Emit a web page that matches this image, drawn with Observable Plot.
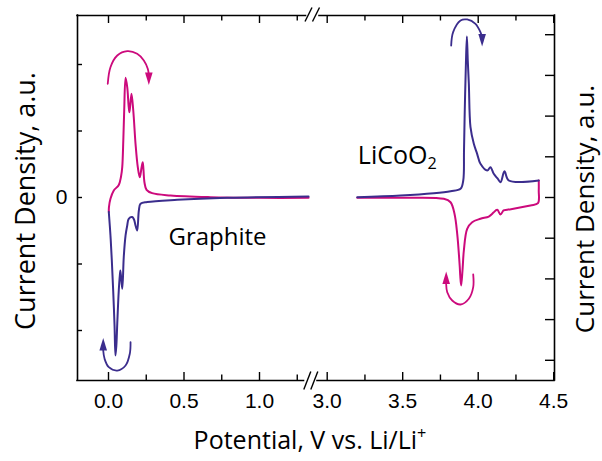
<!DOCTYPE html>
<html><head><meta charset="utf-8">
<script src="https://cdn.jsdelivr.net/npm/d3@7"></script>
<script src="https://cdn.jsdelivr.net/npm/@observablehq/plot@0.6"></script>
<style>html,body{margin:0;padding:0;background:#fff;} svg{display:block;}</style>
</head><body><div id="chart"></div>
<script>
// ---------- data (potential in V, current density in arbitrary units) ----------
const graphiteOxV = [0.002,0.003,0.013,0.035,0.068,0.083,0.091,0.098,0.104,0.113,0.124,0.134,0.139,0.152,0.164,0.179,0.194,0.207,0.219,0.227,0.238,0.252,0.289,0.411,0.675,1.007,1.325];
const graphiteOxI = [-0.218,-0.146,-0.02,0.105,0.188,0.316,0.456,0.857,1.308,1.80,1.659,1.358,1.283,1.559,1.308,0.807,0.456,0.305,0.451,0.531,0.23,0.116,0.065,0.03,0.005,-0.005,-0.005];

const graphiteRedV = [0.002,0.013,0.022,0.031,0.040,0.046,0.052,0.058,0.068,0.075,0.079,0.091,0.101,0.113,0.124,0.134,0.157,0.169,0.179,0.19,0.201,0.212,0.256,0.455,0.786,1.325];
const graphiteRedI = [-0.218,-0.571,-0.947,-1.398,-1.925,-2.376,-2.226,-1.895,-1.398,-1.173,-1.098,-1.373,-0.898,-0.571,-0.421,-0.32,-0.293,-0.331,-0.421,-0.496,-0.195,-0.095,-0.068,-0.035,-0.005,0.015];

const licoOxV = [3.199,3.485,3.706,3.817,3.883,3.901,3.906,3.911,3.918,3.925,3.931,3.938,3.949,3.971,3.993,4.015,4.06,4.081,4.103,4.128,4.148,4.174,4.203,4.401];
const licoOxI = [0.005,0.03,0.065,0.095,0.131,0.256,0.707,1.308,1.959,2.421,2.06,1.71,1.057,0.807,0.657,0.507,0.406,0.456,0.356,0.286,0.23,0.395,0.256,0.256];

const licoRedV = [4.401,4.401,4.396,4.346,4.192,4.168,4.148,4.126,4.101,4.093,4.07,4.015,3.96,3.927,3.905,3.896,3.887,3.881,3.878,3.861,3.843,3.817,3.772,3.485,3.199];
const licoRedI = [0.256,0.105,-0.086,-0.12,-0.185,-0.195,-0.256,-0.185,-0.226,-0.245,-0.286,-0.32,-0.371,-0.471,-0.797,-1.098,-1.323,-1.173,-1.048,-0.546,-0.245,-0.071,-0.02,-0.005,-0.005];

// scan-direction arrows
const arrowGraphiteOxV = [-0.005,0.013,0.058,0.124,0.19,0.234,0.26,0.267];
const arrowGraphiteOxI = [1.71,1.959,2.135,2.2,2.161,2.06,1.935,1.85];
const arrowGraphiteRedV = [0.146,0.141,0.113,0.058,0.002,-0.026,-0.035];
const arrowGraphiteRedI = [-2.176,-2.35,-2.526,-2.602,-2.552,-2.426,-2.301];
const arrowLicoOxV = [3.821,3.834,3.883,3.927,3.982,4.015,4.024];
const arrowLicoOxI = [2.286,2.486,2.662,2.677,2.612,2.486,2.421];
const arrowLicoRedV = [3.967,3.967,3.938,3.883,3.828,3.795,3.788];
const arrowLicoRedI = [-1.158,-1.349,-1.523,-1.609,-1.549,-1.424,-1.308];
const arrowHeadV = [0.267,-0.035,4.026,3.788];
const arrowHeadI = [1.789,-2.21,2.368,-1.21];
const arrowHeadDir = ["down","up","down","up"];
const arrowHeadSeries = ["ox","red","ox","red"];

// ticks and labels
const xTicks = [0,0.25,0.5,0.75,1,1.25,3,3.25,3.5,3.75,4,4.25,4.5];
const xLabelValues = [0,0.5,1,3,3.5,4,4.5];
const xLabels = ["0.0","0.5","1.0","3.0","3.5","4.0","4.5"];
const leftTicks = [-2,-1,0,1,2];
const rightTicks = [-4,-3,-2,-1,0,1,2,3,4];
const rightTickScale = 0.612;   // LiCoO2 axis units -> graphite axis units
const labels = {graphite: "Graphite", lico: "LiCoO2", yTitle: "Current Density, a.u.", xTitle: "Potential, V vs. Li/Li+"};

// ---------- layout ----------
const MAG = "#cc0a7c", BLUE = "#3b2d8d";
const PXV = 151, PXU = 66.5;             // px per volt, px per current unit
const BREAK_OFFSET = 1.5517;             // removed span of the broken axis
const toP = v => v >= 2 ? v - BREAK_OFFSET : v;
const px2p = x => (x - 108) / PXV;       // helpers for decorations (break marks)
const py2y = y => (197 - y) / PXU;
const xMin = -0.2053, xMax = 2.9536;
const yMin = -(380 - 197) / PXU, yMax = (197 - 15) / PXU;

const rows = (vs, is) => vs.map((v, i) => ({p: toP(v), y: is[i]}));
const tickRows = xTicks.map(v => ({p: toP(v), major: xLabelValues.includes(v)}));
const labelRows = xLabelValues.map((v, i) => ({p: toP(v), label: xLabels[i]}));
const heads = arrowHeadV.map((v, i) => ({p: toP(v), y: arrowHeadI[i], rot: arrowHeadDir[i] === "down" ? 180 : 0, s: arrowHeadSeries[i]}));

const headSymbol = {draw(ctx) { ctx.moveTo(0, -6.5); ctx.lineTo(3.8, 6); ctx.lineTo(-3.8, 6); ctx.closePath(); }};

const frameSegs = [
  {y: yMax, x1: xMin, x2: px2p(305.5)}, {y: yMax, x1: px2p(319), x2: xMax},
  {y: yMin, x1: xMin, x2: px2p(303.5)}, {y: yMin, x1: px2p(317), x2: xMax}
];
const slashes = [[308, 14, 7], [315.5, 14, 7], [306.8, 380, 9], [313.8, 380, 9]].map(([cx, cy, h]) => ({
  x1: px2p(cx - 3.5), y1: py2y(cy + h), x2: px2p(cx + 3.5), y2: py2y(cy - h)
}));

const titleFont = "'Open Sans', 'Noto Sans', sans-serif";
const tickFont = "'Liberation Sans', Arial, sans-serif";
const dataCurve = "catmull-rom";

const chart = Plot.plot({
  width: 602, height: 461,
  marginLeft: 77, marginRight: 48, marginTop: 15, marginBottom: 81,
  x: {domain: [xMin, xMax], axis: null},
  y: {domain: [yMin, yMax], axis: null},
  style: {background: "#fff", fontFamily: tickFont, fontSize: "21px", color: "#000"},
  marks: [
    // data curves
    Plot.line(rows(graphiteOxV, graphiteOxI), {x: "p", y: "y", stroke: MAG, strokeWidth: 2, curve: dataCurve}),
    Plot.line(rows(licoRedV, licoRedI), {x: "p", y: "y", stroke: MAG, strokeWidth: 2, curve: dataCurve}),
    Plot.line(rows(graphiteRedV, graphiteRedI), {x: "p", y: "y", stroke: BLUE, strokeWidth: 2, curve: dataCurve}),
    Plot.line(rows(licoOxV, licoOxI), {x: "p", y: "y", stroke: BLUE, strokeWidth: 2, curve: dataCurve}),
    // arrows
    Plot.line(rows(arrowGraphiteOxV, arrowGraphiteOxI), {x: "p", y: "y", stroke: MAG, strokeWidth: 1.8, curve: "catmull-rom"}),
    Plot.line(rows(arrowLicoRedV, arrowLicoRedI), {x: "p", y: "y", stroke: MAG, strokeWidth: 1.8, curve: "catmull-rom"}),
    Plot.line(rows(arrowGraphiteRedV, arrowGraphiteRedI), {x: "p", y: "y", stroke: BLUE, strokeWidth: 1.8, curve: "catmull-rom"}),
    Plot.line(rows(arrowLicoOxV, arrowLicoOxI), {x: "p", y: "y", stroke: BLUE, strokeWidth: 1.8, curve: "catmull-rom"}),
    Plot.dot(heads.filter(d => d.s === "ox" && d.p < 1), {x: "p", y: "y", rotate: "rot", symbol: headSymbol, fill: MAG, stroke: null}),
    Plot.dot(heads.filter(d => d.s === "red" && d.p > 1), {x: "p", y: "y", rotate: "rot", symbol: headSymbol, fill: MAG, stroke: null}),
    Plot.dot(heads.filter(d => d.s === "red" && d.p < 1), {x: "p", y: "y", rotate: "rot", symbol: headSymbol, fill: BLUE, stroke: null}),
    Plot.dot(heads.filter(d => d.s === "ox" && d.p > 1), {x: "p", y: "y", rotate: "rot", symbol: headSymbol, fill: BLUE, stroke: null}),
    // frame with axis break
    Plot.ruleX([xMin, xMax], {y1: yMin, y2: yMax, stroke: "#000", strokeWidth: 1.6, strokeLinecap: "square"}),
    Plot.ruleY(frameSegs, {y: "y", x1: "x1", x2: "x2", stroke: "#000", strokeWidth: 1.6, strokeLinecap: "square"}),
    Plot.link(slashes, {x1: "x1", y1: "y1", x2: "x2", y2: "y2", stroke: "#000", strokeWidth: 1.4}),
    // inward ticks
    Plot.ruleX(tickRows, {x: "p", y1: yMin, y2: d => yMin + (d.major ? 8 : 5.5) / PXU, stroke: "#000", strokeWidth: 1.4}),
    Plot.ruleX(tickRows, {x: "p", y1: yMax, y2: d => yMax - (d.major ? 8 : 5.5) / PXU, stroke: "#000", strokeWidth: 1.4}),
    Plot.ruleY(leftTicks, {y: d => d, x1: xMin, x2: xMin + 5 / PXV, stroke: "#000", strokeWidth: 1.4}),
    Plot.ruleY(rightTicks, {y: d => d * rightTickScale, x1: xMax - 9 / PXV, x2: xMax, stroke: "#000", strokeWidth: 1.4}),
    // tick labels
    Plot.text(labelRows, {x: "p", text: "label", frameAnchor: "bottom", dy: 13, lineAnchor: "top", fontSize: 21, fontFamily: tickFont}),
    Plot.text(["0"], {x: xMin, y: 0, dx: -10, textAnchor: "end", lineAnchor: "middle", fontSize: 21, fontFamily: tickFont}),
    // annotations
    Plot.text([labels.graphite], {x: toP(0.397), y: -0.606, textAnchor: "start", lineAnchor: "middle", fontSize: 24, fontFamily: titleFont}),
    Plot.text([labels.lico], {x: toP(3.203), y: 0.627, textAnchor: "start", lineAnchor: "middle", fontSize: 25, fontFamily: titleFont}),
    // axis titles
    Plot.text([labels.yTitle], {frameAnchor: "left", dx: -51, dy: 3, rotate: -90, textAnchor: "middle", lineAnchor: "middle", fontSize: 27, fontFamily: titleFont}),
    Plot.text([labels.yTitle], {frameAnchor: "right", dx: 31, dy: 11, rotate: -90, textAnchor: "middle", lineAnchor: "middle", fontSize: 26, fontFamily: titleFont}),
    Plot.text([labels.xTitle], {frameAnchor: "bottom", dx: -6, dy: 60, textAnchor: "middle", lineAnchor: "middle", fontSize: 25, fontFamily: titleFont})
  ]
});

// sub/superscripts as real text
chart.querySelectorAll("text").forEach(t => {
  if (t.textContent === "LiCoO2") {
    t.textContent = "LiCoO";
    const s = document.createElementNS("http://www.w3.org/2000/svg", "tspan");
    s.setAttribute("dy", "0.35em"); s.setAttribute("font-size", "65%"); s.textContent = "2";
    t.appendChild(s);
  } else if (t.textContent === "Potential, V vs. Li/Li+") {
    t.textContent = "Potential, V vs. Li/Li";
    const s = document.createElementNS("http://www.w3.org/2000/svg", "tspan");
    s.setAttribute("dy", "-0.6em"); s.setAttribute("font-size", "65%"); s.textContent = "+";
    t.appendChild(s);
  }
});
document.getElementById("chart").appendChild(chart);
</script>
</body></html>
